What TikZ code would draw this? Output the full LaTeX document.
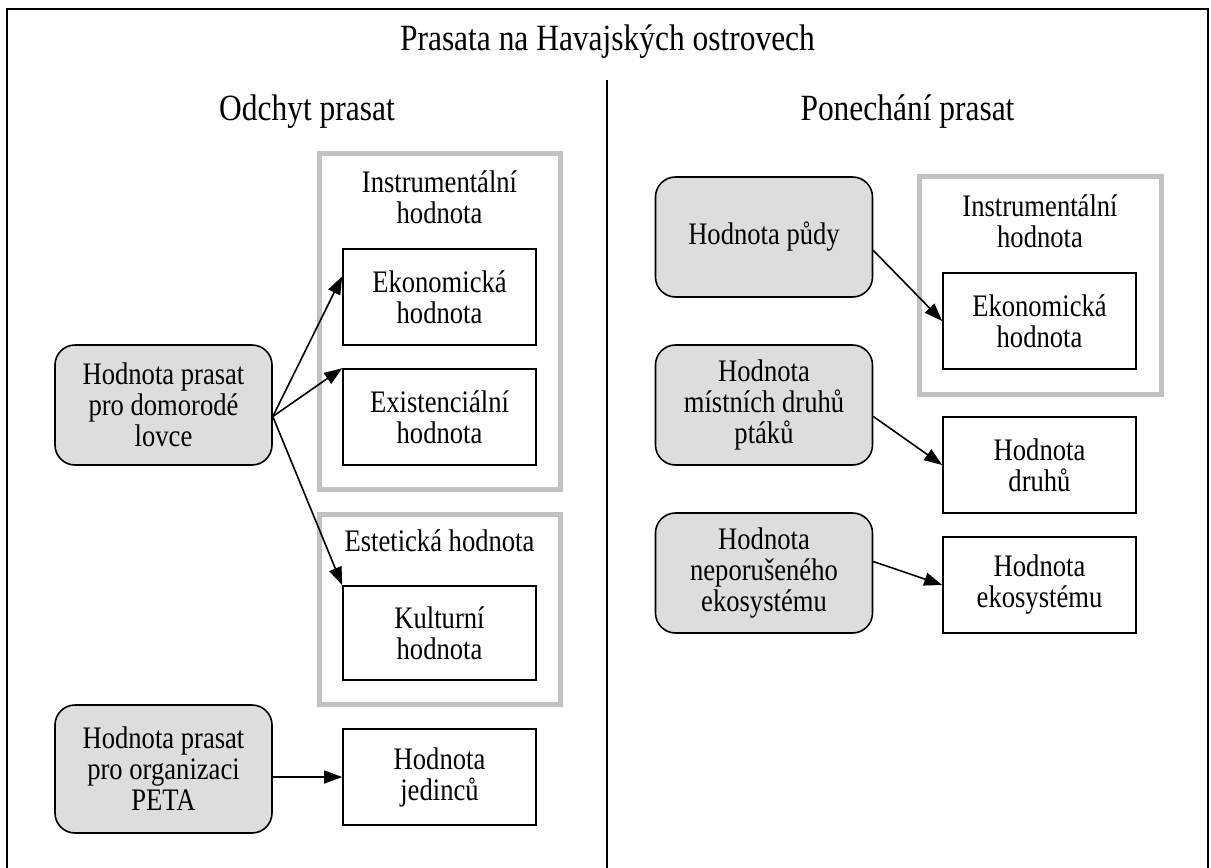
\documentclass[tikz,border=0pt]{standalone}
\usepackage{fontspec}
\setmainfont{Liberation Serif}
\newfontfamily\tallserif[FakeStretch=0.85]{Liberation Serif}
\usetikzlibrary{arrows.meta}

\definecolor{boxgray}{RGB}{221,221,221}
\definecolor{framegray}{RGB}{194,194,194}

\tikzset{
  boxtext/.style={font=\tallserif\fontsize{31.3}{31}\selectfont, align=center},
  headtext/.style={font=\tallserif\fontsize{37}{40}\selectfont},
  valuebox/.style={boxtext, draw, line width=1.6pt, fill=boxgray, rounded corners=20pt,
    minimum width=217pt, minimum height=120pt},
  typebox/.style={boxtext, draw, line width=1.6pt, fill=white,
    minimum width=193pt, minimum height=96pt},
  groupframe/.style={draw=framegray, line width=5pt},
  link/.style={line width=1.6pt, -{Triangle[length=18pt,width=13pt]}}
}

\begin{document}
\begin{tikzpicture}[x=1pt,y=-1pt]
        \useasboundingbox (0,0) rectangle (1211,868);

        % frame and divider
        \draw[line width=2.4pt] (7,868) -- (7,9) -- (1208,9) -- (1208,868);
        \draw[line width=1.8pt] (607,80) -- (607,868);

        \node[headtext] (title) at (607.5,42) {Prasata na Havajských ostrovech};
        \node[headtext] (odchyt) at (307,112) {Odchyt prasat};
        \node[headtext] (ponechani) at (907.5,112) {Ponechání prasat};

        % left half
        \draw[groupframe] (319,153) rectangle (560,489);
        \draw[groupframe] (319,514) rectangle (560,704);
        \node[boxtext] (instrL) at (439.5,197) {Instrumentální\\hodnota};
        \node[boxtext] (estet) at (439.5,541) {Estetická hodnota};

        \node[valuebox] (lovci) at (163.5,405) {Hodnota prasat\\pro domorodé\\lovce};
        \node[valuebox, minimum height=128pt] (peta) at (163.5,769) {Hodnota prasat\\pro organizaci\\PETA};

        \node[typebox] (ekonL) at (439.5,297) {Ekonomická\\hodnota};
        \node[typebox] (exist) at (439.5,417) {Existenciální\\hodnota};
        \node[typebox, minimum height=94pt] (kult) at (439.5,633) {Kulturní\\hodnota};
        \node[typebox] (jedinci) at (439.5,777) {Hodnota\\jedinců};

        \draw[link] (lovci.-6) -- (ekonL.168);
        \draw[link] (lovci.-6) -- (exist.north west);
        \draw[link] (lovci.-6) -- (kult.north west);
        \draw[link] (peta.east |- jedinci.west) -- (jedinci.west);

        % right half
        \draw[groupframe] (919,176) rectangle (1161,394);
        \node[boxtext] (instrR) at (1040,221) {Instrumentální\\hodnota};

        \node[valuebox] (puda) at (764,237) {Hodnota půdy};
        \node[valuebox] (ptaci) at (764,405) {Hodnota\\místních druhů\\ptáků};
        \node[valuebox] (ekos) at (764,573) {Hodnota\\neporušeného\\ekosystému};

        \node[typebox] (ekonR) at (1039.5,321) {Ekonomická\\hodnota};
        \node[typebox] (druhy) at (1039.5,465) {Hodnota\\druhů};
        \node[typebox] (ekosysR) at (1039.5,585) {Hodnota\\ekosystému};

        \draw[link] (puda.-7) -- (ekonR.west);
        \draw[link] (ptaci.-6) -- (druhy.west);
        \draw[link] (ekos.6) -- (ekosysR.west);
\end{tikzpicture}
\end{document}
